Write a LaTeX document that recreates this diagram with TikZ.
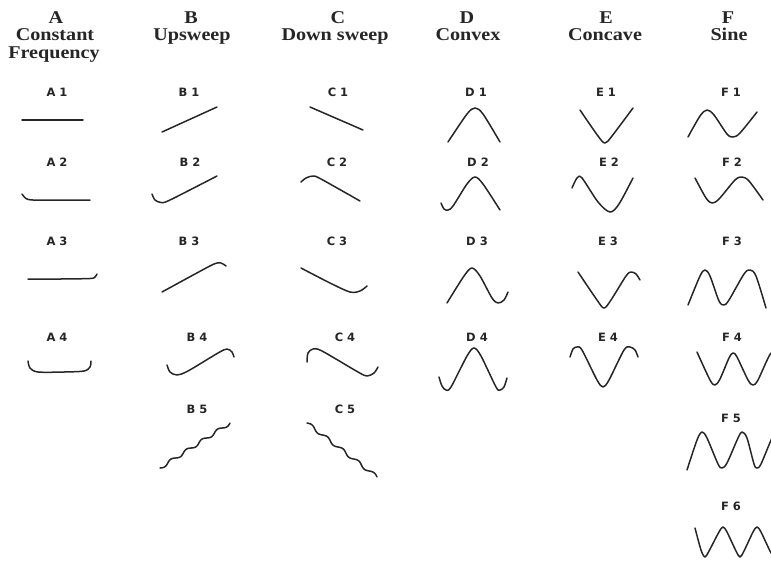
\documentclass[tikz,border=0pt]{standalone}
\usepackage{fontspec}
\usepackage{tikz}
\usetikzlibrary{positioning}
\newfontfamily\headfont[FakeStretch=1.12]{Liberation Serif}
\newfontfamily\tagfont{DejaVu Sans}
\definecolor{ink}{HTML}{262626}

\begin{document}
\begin{tikzpicture}[x=1pt,y=1pt]
\tikzstyle{head}=[inner sep=0pt,anchor=base,text=ink,font=\headfont\bfseries\fontsize{18}{18}\selectfont];
\tikzstyle{tag}=[inner sep=0pt,text=ink,font=\tagfont\bfseries\fontsize{11.5}{12}\selectfont];
\tikzstyle{call}=[draw=ink,line width=1.5pt,line cap=round,line join=round];
\useasboundingbox (0,0) rectangle (771,-566);
\clip (0,0) rectangle (771,-566);
% column heads
\foreach \c/\x in {A/56,B/191,C/338,D/467,E/606,F/728}
  \node[head] (h\c) at (\x,-23) {\c};
\node[head] (nA) at (55,-40) {Constant};
\node[head] (fA) at (54,-58) {Frequency};
\node[head] (nB) at (192,-40) {Upsweep};
\node[head] (nC) at (335,-40) {Down sweep};
\node[head] (nD) at (468,-40) {Convex};
\node[head] (nE) at (605,-40) {Concave};
\node[head] (nF) at (729,-40) {Sine};
% call labels
\foreach \c/\r/\x/\y in {A/1/57/92, A/2/57/162, A/3/57/241, A/4/57/337,
    B/1/189/92, B/2/190/162, B/3/189/241, B/4/197/337, B/5/197/409,
    C/1/338/92, C/2/337/162, C/3/337/241, C/4/345/337, C/5/345/409,
    D/1/476/92, D/2/478/162, D/3/477/241, D/4/477/337,
    E/1/606/92, E/2/609/162, E/3/608/241, E/4/608/337,
    F/1/731/92, F/2/732/162, F/3/732/241, F/4/732/337, F/5/731/418, F/6/731/506}
  \node[tag] (\c\r) at (\x,-\y) {\c\ \r};
% A: constant frequency
\draw[call] (22,-120) -- (83,-120);
\draw[call] plot[smooth] coordinates {(22,-194) (26,-198.5) (33,-200) (60,-200) (90,-200)};
\draw[call] plot[smooth] coordinates {(28,-279) (60,-279) (90,-278.5) (95,-277) (97,-274)};
\draw[call] plot[smooth] coordinates {(28,-361) (30,-368) (38,-372) (64,-372) (84,-371) (90,-367) (91,-361)};
% B: upsweep
\draw[call] (162,-132) -- (217,-107);
\draw[call] plot[smooth] coordinates {(152,-194) (155,-200) (161,-202.5) (170,-200) (217,-176)};
\draw[call] plot[smooth] coordinates {(162,-292) (195,-274) (214,-264) (221,-263) (226,-266)};
\draw[call] plot[smooth] coordinates {(167,-365) (170,-372) (177,-375) (188,-371) (218,-353) (227,-349) (232,-352) (234,-357)};
\draw[call] plot[domain=0:1,samples=120,smooth] ({160+70*\x+1.6*0.54*sin(4.5*360*\x)},{-468+45*\x-1.6*0.84*sin(4.5*360*\x)});
% C: down sweep
\draw[call] (310,-107) -- (363,-130);
\draw[call] plot[smooth] coordinates {(301,-182) (306,-178) (313,-176) (321,-179) (360,-201)};
\draw[call] plot[smooth] coordinates {(301,-268) (330,-283) (350,-292) (360,-291) (367,-286)};
\draw[call] plot[smooth] coordinates {(307,-362) (308,-353) (313,-349) (322,-351) (358,-372) (367,-376) (374,-373) (378,-367)};
\draw[call] plot[domain=0:1,samples=120,smooth] ({307+70*\x+1.6*0.61*sin(4.5*360*\x)},{-423-54*\x+1.6*0.79*sin(4.5*360*\x)});
% D: convex
\draw[call] plot[smooth] coordinates {(448,-142) (467,-114) (475,-108) (483,-114) (500,-142)};
\draw[call] plot[smooth] coordinates {(441,-203) (444,-209) (448,-210) (453,-206) (467,-184) (475,-177) (483,-184) (500,-210)};
\draw[call] plot[smooth] coordinates {(447,-303) (464,-276) (472,-268) (480,-276) (492,-298) (498,-303) (504,-300) (508,-292)};
\draw[call] plot[smooth] coordinates {(439,-377) (442,-386) (446,-390) (451,-387) (467,-356) (474,-348) (481,-356) (496,-387) (500,-390) (504,-387) (507,-378)};
% E: concave
\draw[call] plot[smooth] coordinates {(580,-110) (598,-136) (605,-143) (612,-136) (633,-108)};
\draw[call] plot[smooth] coordinates {(572,-188) (577,-178) (582,-178) (598,-202) (610,-212) (619,-204) (633,-178)};
\draw[call] plot[smooth] coordinates {(578,-272) (597,-300) (604,-308) (611,-300) (626,-276) (631,-272) (636,-274) (640,-280)};
\draw[call] plot[smooth] coordinates {(570,-357) (573,-349) (577,-347) (582,-350) (597,-380) (603,-387) (609,-380) (624,-350) (630,-347) (635,-350) (638,-357)};
% F: sine
\draw[call] plot[smooth] coordinates {(688,-137) (700,-116) (707,-110) (714,-115) (727,-134) (733,-137) (740,-133) (757,-112)};
\draw[call] plot[smooth] coordinates {(695,-178) (706,-198) (712,-203) (719,-199) (735,-180) (742,-177) (749,-181) (763,-200)};
\draw[call] plot[smooth] coordinates {(688,-305) (700,-276) (705,-270) (710,-276) (719,-301) (724,-305) (729,-300) (744,-274) (750,-270) (756,-276) (766,-308)};
\draw[call] plot[smooth] coordinates {(697,-352) (710,-380) (715,-385) (720,-379) (729,-358) (733,-353) (737,-357) (748,-380) (753,-385) (758,-380) (771,-353) (777,-360)};
\draw[call] plot[smooth] coordinates {(687,-470) (697,-440) (702,-432) (707,-438) (718,-464) (722,-468) (727,-463) (738,-438) (742,-432) (747,-438) (754,-464) (757,-468) (761,-464) (772,-438) (777,-432)};
\draw[call] plot[smooth] coordinates {(695,-528) (701,-550) (705,-557) (709,-551) (719,-532) (723,-527) (727,-532) (736,-551) (740,-557) (744,-551) (753,-532) (757,-527) (761,-532) (770,-551) (774,-557)};
\end{tikzpicture}
\end{document}
